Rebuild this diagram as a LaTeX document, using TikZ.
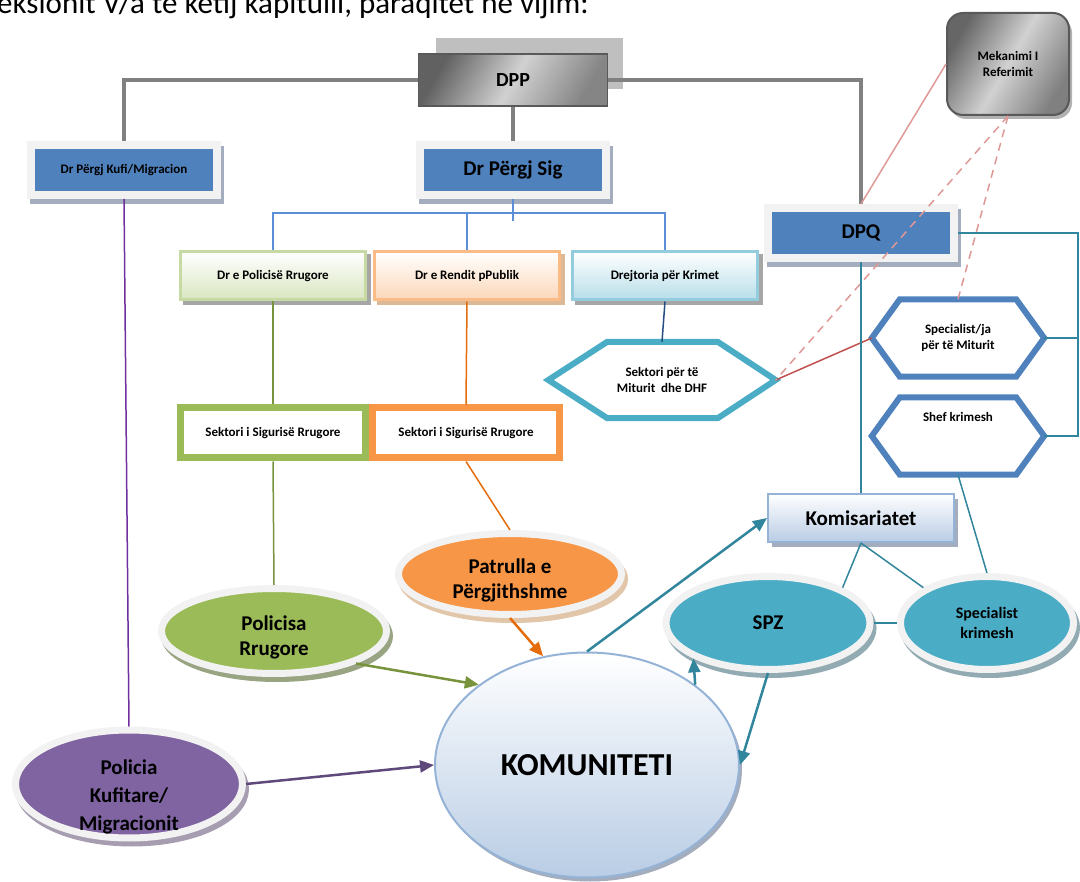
\documentclass[tikz,border=0pt]{standalone}
\usepackage{fontspec}
\setmainfont{Carlito}
\usetikzlibrary{shapes.geometric,shadows,arrows.meta,calc}

\definecolor{accblue}{HTML}{4F81BD}
\definecolor{accteal}{HTML}{4BACC6}
\definecolor{accgreen}{HTML}{9BBB59}
\definecolor{accorange}{HTML}{F79646}
\definecolor{accpurple}{HTML}{8064A2}
\definecolor{ringgrey}{HTML}{F2F2F2}
\definecolor{shadblue}{HTML}{A3ADBD}
\definecolor{linegrey}{HTML}{808080}
\definecolor{lineteal}{HTML}{31859C}
\definecolor{linered}{HTML}{C0504D}
\definecolor{linepink}{HTML}{DE9896}
\definecolor{linegreen}{HTML}{77933C}
\definecolor{lineorange}{HTML}{E46C0A}
\definecolor{linepurple}{HTML}{7030A0}
\definecolor{linenavy}{HTML}{254E82}
\definecolor{lineblue}{HTML}{5B8ED6}
\definecolor{arrowpurple}{HTML}{5F497A}

\newcommand{\lbl}[1]{\fontsize{#1}{\dimexpr #1pt*6/5\relax}\selectfont\bfseries}

\tikzset{
	bluebox/.style={draw=ringgrey, line width=8pt, fill=accblue, minimum width=186pt, minimum height=50pt, inner sep=0pt,
		drop shadow={shadow xshift=3pt, shadow yshift=-5pt, opacity=1, fill=shadblue, draw=shadblue, line width=8pt}},
	palebox/.style n args={3}{draw=#1, line width=3pt, top color=white, bottom color=#2, minimum width=185pt, minimum height=48pt, inner sep=0pt, font=\lbl{13},
		drop shadow={shadow xshift=4pt, shadow yshift=-4pt, opacity=1, fill=#3, draw=#3, line width=3pt}},
	framebox/.style={draw=#1, line width=7pt, fill=white, minimum height=50pt, inner sep=0pt, font=\lbl{13}},
	ringell/.style 2 args={ellipse, draw=ringgrey, line width=7pt, fill=#1, inner sep=0pt, align=center,
		drop shadow={shadow xshift=3pt, shadow yshift=-5pt, opacity=1, fill=#2, draw=#2, line width=7pt}},
	hexnode/.style={inner sep=0pt, align=center, font=\lbl{13}},
	hexline/.style={draw=#1, line width=6pt, line join=miter},
	greyconn/.style={draw=linegrey, line width=4pt},
	busline/.style={draw=lineblue, line width=1.5pt},
	tealconn/.style={draw=lineteal, line width=1.5pt},
	tealarrow/.style={draw=lineteal, line width=2.5pt, -{Triangle[length=14pt,width=12pt]}},
	colarrow/.style={draw=#1, line width=2.5pt, -{Triangle[length=14pt,width=12pt]}}
}

\begin{document}
\begin{tikzpicture}[x=1pt, y=-1pt]
	\useasboundingbox (0,0) rectangle (1080,882);

	\node[anchor=base west, inner sep=0pt, font=\fontsize{31}{37}\selectfont] (intro) at (-3,14) {eksionit V/a të këtij kapitulli, paraqitet në vijim:};

	% top level
	\node[fill=black!25, minimum width=187pt, minimum height=51pt] (dppback) at (529,64) {};
	\node[draw=black!65, line width=1.5pt, left color=black!62, right color=black!48, middle color=black!18, shading angle=60,
		minimum width=189pt, minimum height=52pt, font=\lbl{20}] (dpp) at (513,80) {DPP};
	\node[rounded corners=16pt, draw=black!65, line width=2pt, left color=black!60, right color=black!50, middle color=black!18, shading angle=60,
		minimum width=122pt, minimum height=102pt, align=center, font=\lbl{13},
		drop shadow={shadow xshift=3pt, shadow yshift=-4pt, opacity=1, fill=black!30}] (mek) at (1008,64) {Mekanimi I\\Referimit};

	\node[bluebox, font=\lbl{13}] (kufi) at (124,170) {Dr Përgj Kufi/Migracion};
	\node[bluebox, font=\lbl{21}] (sig) at (513,170) {Dr Përgj Sig};
	\node[bluebox, font=\lbl{21}] (dpq) at (861,233) {DPQ};

	% directorates
	\node[palebox={accgreen!55}{accgreen!38}{black!35}] (polr) at (273,276) {Dr e Policisë Rrugore};
	\node[palebox={accorange!65}{accorange!38}{brown!55}] (ren) at (467,276) {Dr e Rendit pPublik};
	\node[palebox={accteal!60}{accteal!40}{black!35}] (drk) at (665,276) {Drejtoria për Krimet};

	\node[framebox=accgreen, minimum width=185pt] (sekg) at (273,433) {Sektori i Sigurisë Rrugore};
	\node[framebox=accorange, minimum width=187pt] (seko) at (466,433) {Sektori i Sigurisë Rrugore};

	% hexagons
	\node[hexnode, minimum width=227pt, minimum height=76pt] (sekm) at (662,380) {Sektori për të\\Miturit\ \ dhe DHF};
	\node[hexnode, minimum width=172pt, minimum height=77pt] (spm) at (958,338) {Specialist/ja\\për të Miturit};
	\node[hexnode, minimum width=172pt, minimum height=77pt] (shef) at (958,436) {Shef krimesh\\[22pt]};
	\draw[hexline=accteal] (sekm.west) -- ($(sekm.north west)+(59,0)$) -- ($(sekm.north east)+(-58,0)$) -- (sekm.east)
		-- ($(sekm.south east)+(-58,0)$) -- ($(sekm.south west)+(59,0)$) -- cycle;
	\draw[hexline=accblue] (spm.west) -- ($(spm.north west)+(28,0)$) -- ($(spm.north east)+(-28,0)$) -- (spm.east)
		-- ($(spm.south east)+(-28,0)$) -- ($(spm.south west)+(28,0)$) -- cycle;
	\draw[hexline=accblue] (shef.west) -- ($(shef.north west)+(28,0)$) -- ($(shef.north east)+(-28,0)$) -- (shef.east)
		-- ($(shef.south east)+(-28,0)$) -- ($(shef.south west)+(28,0)$) -- cycle;

	% units
	\node[draw=accblue!60, line width=2pt, top color=white, bottom color=accblue!40, minimum width=186pt, minimum height=48pt, font=\lbl{21},
		drop shadow={shadow xshift=4pt, shadow yshift=-5pt, opacity=1, fill=shadblue}] (kom) at (861,518) {Komisariatet};
	\node[ringell={accorange}{brown!45}, minimum width=223pt, minimum height=81pt, font=\lbl{21}] (patr) at (510,574) {\rule{0pt}{27pt}Patrulla e\\Përgjithshme};
	\node[ringell={accgreen}{accgreen!55!black!60}, minimum width=225pt, minimum height=85pt, font=\lbl{21}] (polic) at (274,631) {\rule{0pt}{27pt}Policisa\\Rrugore};
	\node[ringell={accteal}{accteal!50!black!50}, minimum width=204pt, minimum height=93pt, font=\lbl{21}] (spz) at (768,623) {SPZ};
	\node[ringell={accteal}{accteal!50!black!50}, minimum width=173pt, minimum height=93pt, font=\lbl{16}] (spk) at (987,623) {Specialist\\krimesh};
	\node[ringell={accpurple}{accpurple!60!black!50}, inner ysep=-25pt, minimum width=227pt, minimum height=108pt, font=\fontsize{21}{28}\selectfont\bfseries] (pkm) at (129,784)
		{\rule{0pt}{40pt}Policia\\Kufitare/\\Migracionit};
	\node[ellipse, draw=accblue!60, line width=2pt, top color=white, bottom color=accblue!40, minimum width=304pt, minimum height=225pt, inner sep=0pt,
		font=\lbl{32}, drop shadow={shadow xshift=3pt, shadow yshift=-4pt, opacity=1, fill=shadblue}] (komu) at (587,765) {KOMUNITETI};

	% connectors
	\draw[greyconn] (dpp.west) -| (kufi.north);
	\draw[greyconn] (dpp.east) -| (dpq.north);
	\draw[greyconn] (dpp.south) -- (sig.north);

	\coordinate (bus) at (513,213);
	\draw[busline] (sig.south) -- ++(0,22);
	\draw[busline] (polr.north) |- (bus) -| (drk.north);
	\draw[busline] (bus) -| (ren.north);

	\draw[linegreen, line width=1.5pt] (polr.south) -- (sekg.north);
	\draw[linegreen, line width=1.5pt] (sekg.south) -- (polic.north);
	\draw[lineorange, line width=1.5pt] (ren.south) -- (seko.north);
	\draw[lineorange, line width=1.5pt] (seko.south) -- (patr.north);
	\draw[linenavy, line width=1.5pt] (drk.south) -- (sekm.north);
	\draw[linepurple, line width=1.5pt] (kufi.south) -- (pkm.north);

	\draw[linered, line width=1.5pt] (sekm.east) -- (spm.west);
	\draw[linepink, line width=1.5pt] (dpq.north) -- (mek.west);
	\draw[linepink, line width=1.5pt, dash pattern=on 8pt off 6pt] (mek.south) -- (sekm.east);
	\draw[linepink, line width=1.5pt, dash pattern=on 8pt off 6pt] (mek.south) -- (spm.north);

	\coordinate (rtop) at (1078,233);
	\draw[tealconn] (dpq.south) -- (kom.north);
	\draw[tealconn] (dpq.east) -- (rtop) |- (shef.east);
	\draw[tealconn] (spm.east) -- (spm.east -| rtop);
	\draw[tealconn] (shef.south) -- (spk.north);
	\draw[tealconn] (kom.south) -- (spz.north east);
	\draw[tealconn] (kom.south) -- (spk.north west);
	\draw[tealconn] (spz.east) -- (spk.west);

	\draw[tealarrow] (komu.north) -- (kom.west);
	\draw[tealarrow] (komu.north east) -- (spz.south west);
	\draw[tealarrow] (spz.south) -- (komu.east);
	\draw[colarrow=linegreen] (polic.south east) -- (komu.north west);
	\draw[colarrow=lineorange] (patr.south) -- (komu.112);
	\draw[colarrow=arrowpurple] (pkm.east) -- (komu.west);
\end{tikzpicture}
\end{document}
